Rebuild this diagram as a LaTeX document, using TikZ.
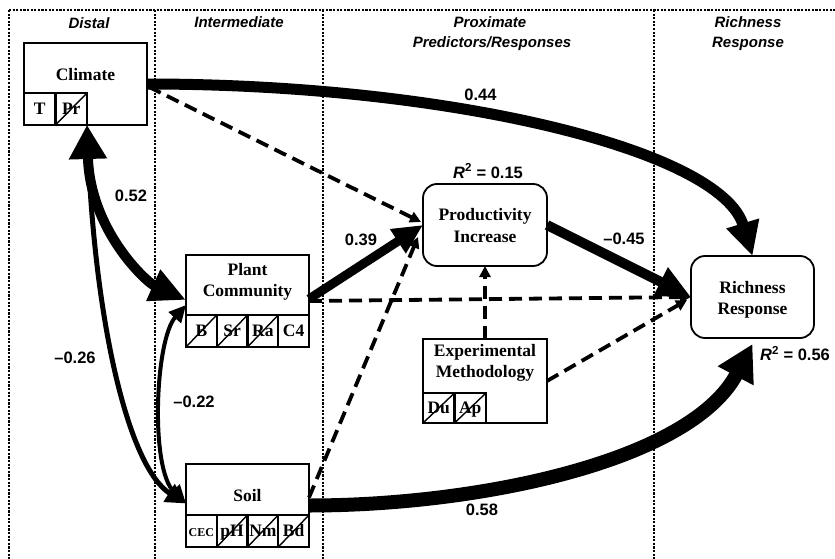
\documentclass[tikz,border=0pt]{standalone}
\usepackage{fontspec}
\setmainfont{Liberation Serif}
\newfontfamily\hv{Liberation Sans}
\usetikzlibrary{arrows.meta,calc}
\tikzset{
  box/.style={draw, line width=1.8pt, fill=white, minimum width=123pt, inner sep=0pt, outer sep=0pt},
  rbox/.style={box, rounded corners=14pt},
  cell/.style={draw, line width=2.4pt, minimum width=31.5pt, minimum height=32pt, inner sep=0pt, outer sep=0pt,
    text height=11.5pt, text depth=0pt, font=\fontsize{17.5}{20}\selectfont\bfseries},
  struck/.style={cell, path picture={\draw[line width=1.4pt] (path picture bounding box.south west) -- (path picture bounding box.north east);}},
  btxt/.style={anchor=base, inner sep=0pt, font=\fontsize{17.5}{20}\selectfont\bfseries},
  headtxt/.style={anchor=base, inner sep=0pt, font=\hv\fontsize{15}{17}\selectfont\bfseries\itshape},
  coef/.style={anchor=base, inner sep=0pt, font=\hv\fontsize{16.5}{19}\selectfont\bfseries},
  zone/.style={line width=2.3pt, dash pattern=on 2.1pt off 1.5pt},
  eff/.style={draw, black},
  dsh/.style={draw, line width=3.8pt, dash pattern=on 13pt off 7pt, -{Triangle[length=11pt,width=11pt]}},
}
\begin{document}
\begin{tikzpicture}[x=1pt,y=-1pt]
\useasboundingbox (0,0) rectangle (835,559);
% zones
\draw[zone] (9,10) -- (835,10);
\draw[zone] (9,10) -- (9,559);
\draw[zone] (155,10) -- (155,559);
\draw[zone] (323,10) -- (323,559);
\draw[zone] (654,10) -- (654,559);
% headers
\node[headtxt] (hdist) at (89,28.5) {Distal};
\node[headtxt] (hint) at (239,28) {Intermediate};
\node[headtxt] (hprox1) at (490,28) {Proximate};
\node[headtxt] (hprox2) at (492,47.5) {Predictors/Responses};
\node[headtxt] (hrich1) at (748,28) {Richness};
\node[headtxt] (hrich2) at (748,47.5) {Response};
% boxes
\node[box, minimum height=82pt] (clim) at (85.5,84) {};
\node[cell, anchor=south west] (ct) at (clim.south west) {T};
\node[struck, anchor=west] (cpr) at (ct.east) {Pr};
\node[btxt] (climtx) at (85.5,81) {Climate};

\node[box, minimum height=92pt] (plant) at (247.5,301) {};
\node[struck, minimum width=30.75pt, anchor=south west] (pb) at (plant.south west) {B};
\node[struck, minimum width=30.75pt, anchor=west] (psr) at (pb.east) {Sr};
\node[struck, minimum width=30.75pt, anchor=west] (pra) at (psr.east) {Ra};
\node[cell, minimum width=30.75pt, anchor=west] (pc4) at (pra.east) {C4};
\node[btxt] (plant1) at (247.5,275.5) {Plant};
\node[btxt] (plant2) at (247.5,296.5) {Community};

\node[box, minimum height=83pt] (soil) at (247.5,505.5) {};
\node[cell, minimum width=30.75pt, anchor=south west] (scec) at (soil.south west) {\fontsize{12}{14}\selectfont CEC};
\node[struck, minimum width=30.75pt, anchor=west] (sph) at (scec.east) {pH};
\node[struck, minimum width=30.75pt, anchor=west] (snm) at (sph.east) {Nm};
\node[struck, minimum width=30.75pt, anchor=west] (sbd) at (snm.east) {Bd};
\node[btxt] (soiltx) at (247.5,501.5) {Soil};

\node[rbox, minimum width=124pt, minimum height=82pt] (prod) at (485,225) {};
\node[btxt] (prod1) at (485,220.5) {Productivity};
\node[btxt] (prod2) at (485,242) {Increase};
\node[coef] (r215) at (488,178) {\textit{R}\textsuperscript{2} = 0.15};

\node[rbox, minimum height=82pt] (rich) at (752.5,297) {};
\node[btxt] (rich1) at (752.5,293) {Richness};
\node[btxt] (rich2) at (752.5,314) {Response};
\node[coef] (r256) at (795,360.5) {\textit{R}\textsuperscript{2} = 0.56};

\node[box, minimum width=124pt, minimum height=84pt] (exp) at (485,381) {};
\node[struck, minimum height=30pt, anchor=south west] (edu) at (exp.south west) {Du};
\node[struck, minimum height=30pt, anchor=west] (eap) at (edu.east) {Ap};
\node[btxt] (exp1) at (485,356) {Experimental};
\node[btxt] (exp2) at (485,377.5) {Methodology};

% dashed paths
\draw[dsh] ($(clim.east)+(2,3)$) -- ($(prod.west)+(-2,-3)$);
\draw[dsh] (plant.east) -- (rich.west);
\draw[dsh] ($(soil.east)+(0,-8)$) -- ($(prod.west)+(-5,12)$);
\draw[dsh] (exp.north) -- (prod.south);
\draw[dsh] (exp.east) -- ($(rich.west)+(-4,3)$);

% solid paths
\draw[eff, line width=5pt, {Triangle[length=20pt,width=18pt]}-{Triangle[length=20pt,width=20pt]}]
  (cpr.south east) .. controls +(8,205) and +(-56,-35) .. ($(soil.west)+(0,-2)$);
\draw[eff, line width=4pt, {Triangle[length=17pt,width=16pt]}-{Triangle[length=18pt,width=18pt]}]
  ($(plant.west)+(0,4)$) .. controls +(-31,35) and +(-36,-35) .. ($(soil.west)+(0,-2)$);
\draw[eff, line width=10pt, {Triangle[length=34pt,width=36pt]}-{Triangle[length=36pt,width=32pt]}]
  (cpr.south east) .. controls +(3,105) and +(-40,-18) .. ($(plant.west)+(0,-1)$);
\draw[eff, line width=11pt, -{Triangle[length=34pt,width=32pt]}]
  (clim.east) .. controls +(303,0) and +(-32,-106) .. (rich.north);
\draw[eff, line width=9pt, -{Triangle[length=30pt,width=27pt]}]
  ($(plant.east)+(0,-2)$) -- (prod.west);
\draw[eff, line width=10pt, -{Triangle[length=34pt,width=30pt]}]
  (prod.east) -- (rich.west);
\draw[eff, line width=14pt, -{Triangle[length=36pt,width=38pt]}]
  (soil.east) .. controls +(171,0) and +(-62,117) .. ($(rich.south)+(0,6)$);

% coefficients
\node[coef] (c044) at (480.5,101) {0.44};
\node[coef] (c052) at (131,201.5) {0.52};
\node[coef] (c039) at (361,245.5) {0.39};
\node[coef] (c045) at (624,244) {–0.45};
\node[coef] (c026) at (75,363) {–0.26};
\node[coef] (c022) at (194,407) {–0.22};
\node[coef] (c058) at (482,515) {0.58};
\end{tikzpicture}
\end{document}
